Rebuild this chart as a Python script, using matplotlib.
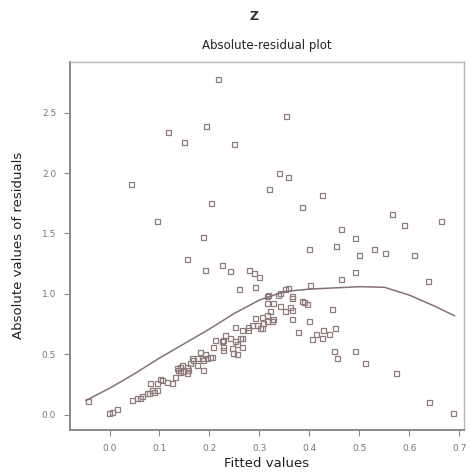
import matplotlib
matplotlib.use("Agg")
import matplotlib.pyplot as plt

# Fitted values and absolute residuals
fitted = [
    0.217, 0.193, 0.118, 0.150, 0.250, 0.353, 0.043, 0.320, 0.340, 0.357,
    0.426, 0.203, 0.385, 0.095, 0.566, 0.589, 0.663, 0.188, 0.463, 0.492,
    0.400, 0.454, 0.499, 0.529, 0.552, 0.610, 0.155, 0.192, 0.225, 0.241,
    0.280, 0.290, 0.300, 0.259, 0.291, 0.492, 0.463, 0.638, 0.401,
    0.445, 0.400, 0.365, 0.377, 0.451, 0.427, 0.413, 0.439, 0.426, 0.406,
    0.449, 0.492, 0.455, 0.512, 0.573, 0.639, 0.688,
    0.390, 0.395, 0.385, 0.365, 0.351, 0.341, 0.358, 0.338, 0.318, 0.328,
    0.315, 0.365, 0.351, 0.328, 0.315, 0.315, 0.305, 0.341, 0.361, 0.321,
    0.365, 0.325, 0.305, 0.291, 0.301, 0.285, 0.265, 0.278, 0.251, 0.278,
    0.295, 0.308, 0.315,
    0.265, 0.231, 0.241, 0.225, 0.211, 0.251, 0.228, 0.245, 0.255, 0.208,
    0.191, 0.185, 0.205, 0.228, 0.228, 0.248, 0.261, 0.255, 0.265, 0.181,
    0.201, 0.188, 0.175, 0.168, 0.161, 0.155, 0.148, 0.141, 0.138, 0.131,
    0.195, 0.188, 0.155, 0.135, 0.145, 0.165, 0.158, 0.175, 0.141,
    0.125, 0.115, 0.105, 0.095, 0.081, 0.101,
    0.095, 0.088, 0.078, 0.075, 0.065, 0.055, 0.045, 0.061, 0.085,
    0.005, 0.015, -0.001, -0.044,
]
abs_resid = [
    2.78, 2.39, 2.34, 2.26, 2.24, 2.47, 1.91, 1.87, 2.00, 1.97,
    1.82, 1.75, 1.72, 1.60, 1.66, 1.57, 1.60, 1.47, 1.54, 1.46,
    1.37, 1.40, 1.32, 1.37, 1.34, 1.32, 1.29, 1.20, 1.24, 1.19,
    1.20, 1.17, 1.14, 1.04, 1.06, 1.18, 1.12, 1.11, 1.07,
    0.875, 0.78, 0.79, 0.685, 0.72, 0.70, 0.67, 0.67, 0.635, 0.627,
    0.53, 0.53, 0.47, 0.43, 0.35, 0.105, 0.014,
    0.93, 0.92, 0.945, 0.98, 1.04, 1.01, 1.05, 0.99, 0.99, 0.925,
    0.925, 0.87, 0.855, 0.79, 0.83, 0.78, 0.72, 0.90, 0.896, 0.855,
    0.966, 0.78, 0.81, 0.80, 0.72, 0.745, 0.70, 0.70, 0.73, 0.73,
    0.745, 0.76, 0.98,
    0.635, 0.66, 0.635, 0.607, 0.62, 0.607, 0.54, 0.55, 0.50, 0.565,
    0.50, 0.47, 0.48, 0.62, 0.565, 0.51, 0.637, 0.59, 0.565, 0.524,
    0.48, 0.455, 0.47, 0.455, 0.43, 0.40, 0.36, 0.40, 0.37, 0.317,
    0.47, 0.37, 0.345, 0.387, 0.414, 0.47, 0.37, 0.414, 0.358,
    0.267, 0.276, 0.29, 0.262, 0.262, 0.30,
    0.207, 0.193, 0.18, 0.185, 0.157, 0.138, 0.124, 0.138, 0.207,
    0.027, 0.045, 0.014, 0.118,
]

# Smoothed trend of the absolute residuals
smooth_x = [-0.047, 0.0, 0.05, 0.10, 0.15, 0.20, 0.25, 0.30, 0.35, 0.40,
            0.45, 0.50, 0.55, 0.60, 0.65, 0.69]
smooth_y = [0.12, 0.22, 0.34, 0.47, 0.59, 0.71, 0.84, 0.95, 1.02, 1.04,
            1.05, 1.06, 1.055, 0.99, 0.90, 0.82]

x_ticks = [0.0, 0.1, 0.2, 0.3, 0.4, 0.5, 0.6, 0.7]
y_ticks = [0.0, 0.5, 1.0, 1.5, 2.0, 2.5]

fig = plt.figure(figsize=(4.7, 4.75), dpi=100)
ax = fig.add_axes([0.149, 0.095, 0.838, 0.775])

ax.plot(fitted, abs_resid, linestyle="none", marker="s", markersize=3.6,
        markerfacecolor="none", markeredgecolor="#907a7c", markeredgewidth=0.9)
ax.plot(smooth_x, smooth_y, color="#85707a", linewidth=1.1)

ax.set_xlim(-0.079, 0.709)
ax.set_ylim(-0.124, 2.92)
ax.set_xticks(x_ticks)
ax.set_yticks(y_ticks)
ax.set_xticklabels([f"{v:.1f}" for v in x_ticks])
ax.set_yticklabels([f"{v:.1f}" for v in y_ticks])

for side in ["top", "right"]:
    ax.spines[side].set_color("#b5b5b5")
    ax.spines[side].set_linewidth(1.0)
for side in ["left", "bottom"]:
    ax.spines[side].set_color("#8a8a8a")
    ax.spines[side].set_linewidth(1.4)
ax.tick_params(direction="out", length=4, width=0.8, color="#8a8a8a",
               labelsize=6.5, labelcolor="#777777", pad=6)

ax.set_xlabel("Fitted values", fontsize=9.5, color="#222222", labelpad=3)
ax.set_ylabel("Absolute values of residuals", fontsize=9.5, color="#222222",
              labelpad=12)
ax.set_title("Absolute-residual plot", fontsize=8.5, color="#222222", pad=9)
fig.text(0.54, 0.965, "Z", ha="center", va="center", fontsize=9,
         fontweight="bold", color="#333333")

fig.savefig("out.png", dpi=100)
